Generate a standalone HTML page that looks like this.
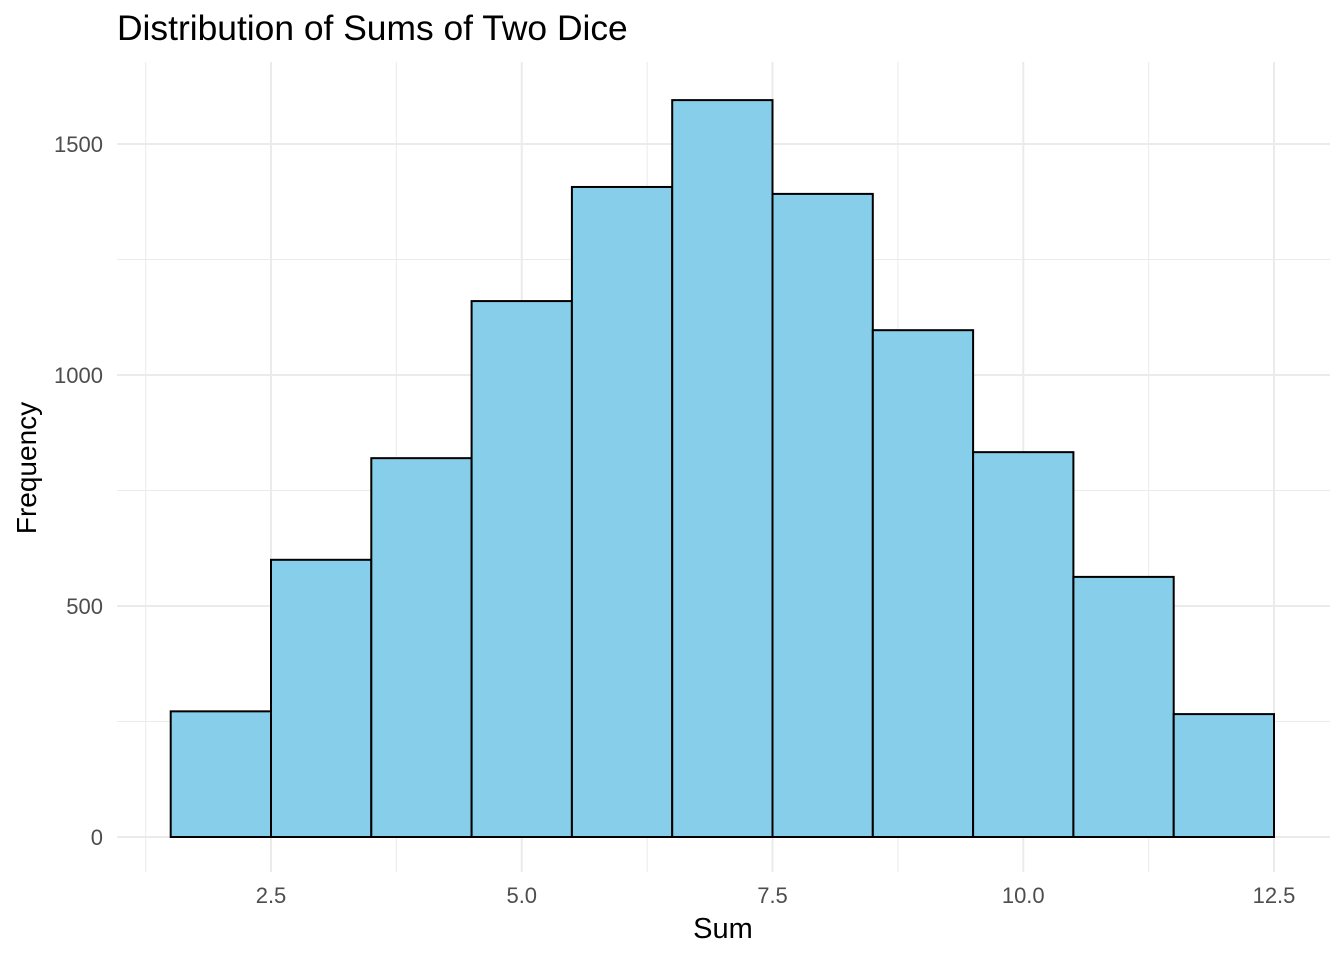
<!DOCTYPE html>
<html><head><meta charset="utf-8"><style>
body{margin:0;background:#fff;}
svg text{font-family:"Liberation Sans",sans-serif;}
</style></head><body>
<svg id="chart" width="1344" height="960">
<text x="117" y="40" font-size="35.4" fill="#000">Distribution of Sums of Two Dice</text>
<g id="grid"></g>
<g id="bars"></g>
<g id="axes"></g>
<text x="723" y="938" font-size="29" text-anchor="middle">Sum</text>
<text transform="translate(36,468) rotate(-90)" font-size="28" text-anchor="middle">Frequency</text>
</svg>
<script>
const categories=[2,3,4,5,6,7,8,9,10,11,12];
const counts=[272,600,820,1160,1407,1595,1392,1097,833,563,266];
const xTicks=[2.5,5.0,7.5,10.0,12.5];
const xTickLabels=["2.5","5.0","7.5","10.0","12.5"];
const yTicks=[0,500,1000,1500];
const yTickLabels=["0","500","1000","1500"];
const xMinor=[1.25,3.75,6.25,8.75,11.25];
const yMinor=[250,750,1250];
const NS="http://www.w3.org/2000/svg";
const sx=v=>271+(v-2.5)*100.3;
const sy=v=>837-v*0.462;
const L=117,R=1330,T=62,B=872;
function mk(tag,attrs,parent){const e=document.createElementNS(NS,tag);for(const k in attrs)e.setAttribute(k,attrs[k]);parent.appendChild(e);return e;}
const grid=document.getElementById('grid'),bars=document.getElementById('bars'),axes=document.getElementById('axes');
xMinor.forEach(v=>{const l=mk('line',{x1:sx(v),x2:sx(v),y1:T,y2:B,stroke:'#ebebeb','stroke-width':1},grid);

});
yMinor.forEach(v=>{const l=mk('line',{x1:L,x2:R,y1:sy(v),y2:sy(v),stroke:'#ebebeb','stroke-width':1},grid);

});
xTicks.forEach((v,i)=>{const l=mk('line',{x1:sx(v),x2:sx(v),y1:T,y2:B,stroke:'#ebebeb','stroke-width':2},grid);


const t=mk('text',{x:sx(v),y:903,'font-size':22,fill:'#4d4d4d','text-anchor':'middle'},axes);t.textContent=xTickLabels[i];

});
yTicks.forEach((v,i)=>{const l=mk('line',{x1:L,x2:R,y1:sy(v),y2:sy(v),stroke:'#ebebeb','stroke-width':2},grid);


const t=mk('text',{x:103,y:sy(v)+8,'font-size':22,fill:'#4d4d4d','text-anchor':'end'},axes);t.textContent=yTickLabels[i];

});
categories.forEach((c,i)=>{const x0=sx(c-0.5),x1=sx(c+0.5);
const r=mk('rect',{x:x0,y:sy(counts[i]),width:x1-x0,height:sy(0)-sy(counts[i]),fill:'#87ceeb',stroke:'#000','stroke-width':2},bars);

});
</script>
</body></html>
